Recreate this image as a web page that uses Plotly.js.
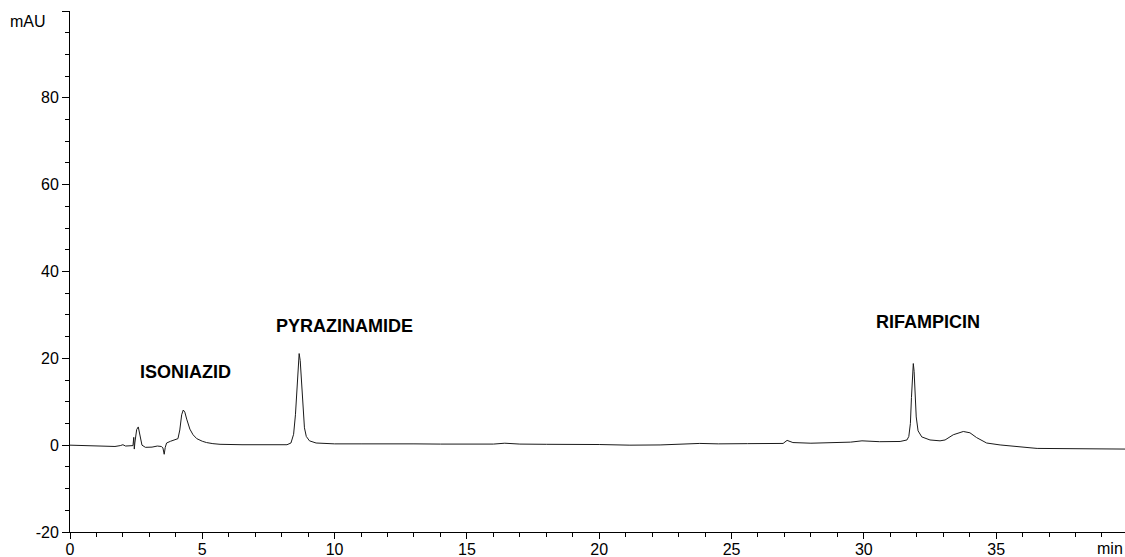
<!DOCTYPE html>
<html>
<head>
<meta charset="utf-8">
<script src="https://cdn.plot.ly/plotly-3.0.1.min.js"></script>
<style>html,body{margin:0;padding:0;background:#fff;}#chart{width:1125px;height:557px;}</style>
</head>
<body>
<div id="chart"></div>
<script>
// Retention time (min)
const timeMin = [0, 0.5, 1.13, 1.5, 1.70, 1.9, 2.0, 2.1, 2.3, 2.38, 2.41, 2.43, 2.45, 2.48, 2.52, 2.58, 2.63, 2.68, 2.72, 2.85, 3.1, 3.3, 3.45, 3.51, 3.56, 3.6, 3.65, 3.8, 3.95, 4.08, 4.15, 4.22, 4.28, 4.34, 4.41, 4.53, 4.65, 4.79, 5.0, 5.16, 5.4, 5.67, 6.5, 7.5, 8.2, 8.35, 8.45, 8.52, 8.58, 8.63, 8.66, 8.70, 8.75, 8.80, 8.86, 8.93, 9.05, 9.3, 10, 11, 12, 13, 14, 15, 16, 16.43, 17, 18, 19, 20, 21.16, 22.3, 23.8, 24.5, 25.6, 26.45, 26.95, 27.1, 27.32, 28, 28.72, 29.5, 29.93, 30.6, 31.37, 31.63, 31.7, 31.76, 31.8, 31.84, 31.87, 31.9, 31.94, 31.98, 32.05, 32.19, 32.5, 32.88, 33.07, 33.38, 33.76, 34.01, 34.26, 34.64, 35.15, 35.78, 36.28, 36.55, 38.06, 39.87];
// Absorbance (mAU)
const absorbance = [0, -0.05, -0.1, -0.2, -0.3, -0.1, 0.1, -0.2, -0.2, -0.1, 1.8, -0.9, 0.5, 2.0, 3.6, 4.2, 2.5, 0.6, 0.0, -0.5, -0.45, -0.2, -0.3, -0.6, -2.1, -0.5, 0.5, 0.9, 1.2, 1.5, 3.5, 7.0, 8.1, 7.6, 6.0, 3.7, 2.4, 1.5, 0.9, 0.6, 0.35, 0.2, 0.1, 0.05, 0.1, 0.5, 2.5, 7, 14, 20, 21.1, 19.5, 14, 8, 4, 2, 1.0, 0.5, 0.3, 0.3, 0.35, 0.3, 0.25, 0.2, 0.25, 0.45, 0.25, 0.2, 0.2, 0.15, 0.0, 0.05, 0.4, 0.3, 0.35, 0.35, 0.4, 1.1, 0.6, 0.45, 0.5, 0.7, 1.0, 0.8, 0.85, 1.2, 2.0, 5, 11, 17, 18.8, 17, 11, 6.5, 3.3, 1.9, 1.2, 1.0, 1.2, 2.4, 3.15, 2.85, 1.75, 0.5, 0.05, -0.4, -0.6, -0.75, -0.8, -0.9];

const peakNames = ["ISONIAZID", "PYRAZINAMIDE", "RIFAMPICIN"];
const peakLabelX = [4.35, 10.39, 32.43];
const peakLabelY = [16.9, 27.5, 28.4];

const yTickVals = [-20, 0, 20, 40, 60, 80, 100];
const yTickText = ["-20", "0", "20", "40", "60", "80", ""];
const xTickVals = [0, 5, 10, 15, 20, 25, 30, 35];
const xTickText = ["0", "5", "10", "15", "20", "25", "30", "35"];

const font = {family: "Liberation Sans, Arial, sans-serif", size: 16, color: "#000"};

const annotations = peakNames.map((n, i) => ({
  x: peakLabelX[i], y: peakLabelY[i], xref: "x", yref: "y",
  text: "<b>" + n + "</b>", showarrow: false,
  font: {family: "Liberation Sans, Arial, sans-serif", size: 18, color: "#000"}
}));
annotations.push({xref: "paper", yref: "paper", x: -0.0588, y: 0.979, xanchor: "left", yanchor: "middle",
  text: "mAU", showarrow: false, font: font});
annotations.push({xref: "paper", yref: "paper", x: 1.0, y: -0.032, xanchor: "right", yanchor: "middle",
  text: "min", showarrow: false, font: font});

const trace = {
  x: timeMin, y: absorbance, type: "scatter", mode: "lines",
  line: {color: "#1a1a1a", width: 1}, hoverinfo: "skip"
};

const layout = {
  width: 1125, height: 557,
  margin: {l: 70, r: 0, t: 11, b: 25},
  paper_bgcolor: "#fff", plot_bgcolor: "#fff",
  showlegend: false,
  font: font,
  xaxis: {
    range: [0, 39.87], showgrid: false, zeroline: false,
    showline: true, linecolor: "#000", linewidth: 1,
    ticks: "outside", ticklen: 6, tickcolor: "#000", tickwidth: 1,
    ticklabelstandoff: -3,
    tickmode: "array", tickvals: xTickVals, ticktext: xTickText,
    minor: {dtick: 1, ticks: "outside", ticklen: 4, tickcolor: "#000", tickwidth: 1, showgrid: false},
    tickfont: font
  },
  yaxis: {
    range: [-20, 100], showgrid: false, zeroline: false,
    showline: true, linecolor: "#000", linewidth: 1,
    ticks: "outside", ticklen: 7, tickcolor: "#000", tickwidth: 1,
    tickmode: "array", tickvals: yTickVals, ticktext: yTickText,
    minor: {dtick: 5, ticks: "outside", ticklen: 4, tickcolor: "#000", tickwidth: 1, showgrid: false},
    tickfont: font
  },
  annotations: annotations
};

Plotly.newPlot("chart", [trace], layout, {staticPlot: true, displayModeBar: false});
</script>
</body>
</html>
